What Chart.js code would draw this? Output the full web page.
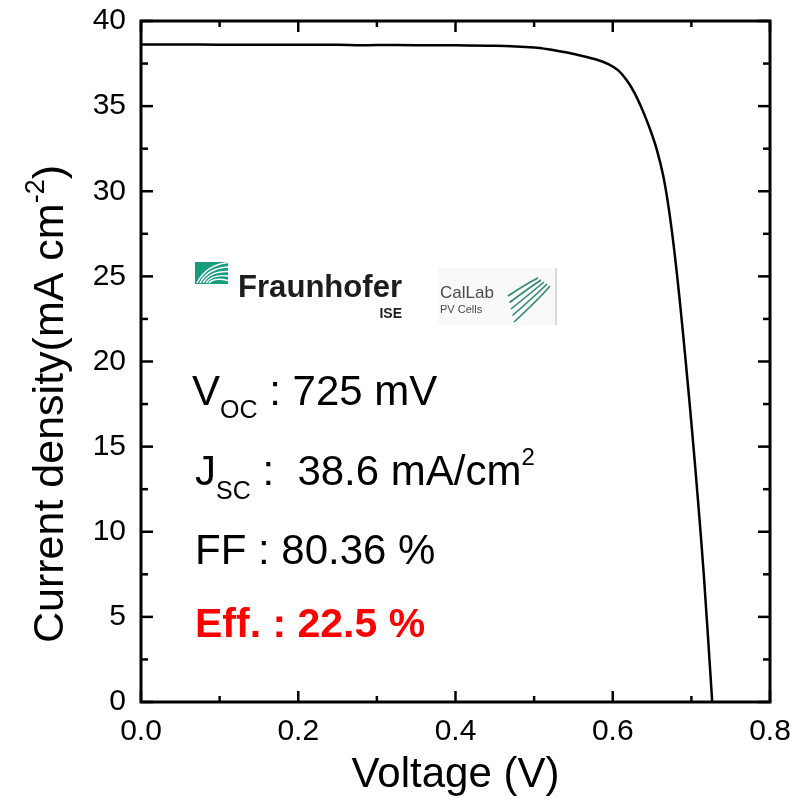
<!DOCTYPE html>
<html><head><meta charset="utf-8">
<script src="https://cdn.jsdelivr.net/npm/chart.js@4.4.0/dist/chart.umd.min.js"></script>
<style>html,body{margin:0;padding:0;background:#fff;}canvas{display:block;}</style>
</head><body>
<canvas id="c" width="803" height="801"></canvas>
<script>
// ---- data ----
const voltage = [0, 0.05, 0.10, 0.15, 0.20, 0.25, 0.28, 0.30, 0.35, 0.40, 0.45, 0.50, 0.52, 0.54, 0.56, 0.58, 0.595, 0.607, 0.618, 0.628, 0.638, 0.647, 0.656, 0.664, 0.671, 0.678, 0.685, 0.692, 0.700, 0.708, 0.716, 0.7265];
const currentDensity = [38.62, 38.62, 38.61, 38.61, 38.60, 38.60, 38.57, 38.59, 38.58, 38.57, 38.55, 38.45, 38.33, 38.16, 37.96, 37.72, 37.45, 37.10, 36.50, 35.75, 34.75, 33.70, 32.45, 30.95, 29.07, 26.62, 23.68, 20.39, 16.39, 12.07, 7.35, 0];
const xTickValues = [0, 0.2, 0.4, 0.6, 0.8];
const yTickValues = [0, 5, 10, 15, 20, 25, 30, 35, 40];
const xAxisTitle = 'Voltage (V)';
const yAxisTitle = ['Current density(mA cm', '-2', ')'];
const vocLine = ['V', 'OC', ' : 725 mV'];
const jscLine = ['J', 'SC', ' :  38.6 mA/cm', '2'];
const ffLine = 'FF : 80.36 %';
const effLine = 'Eff. : 22.5 %';
const logo1 = ['Fraunhofer', 'ISE'];
const logo2 = ['CalLab', 'PV Cells'];

const FONT = "'Liberation Sans', Arial, sans-serif";

function drawRuns(ctx, x, y, runs) {
  let cx = x;
  for (const r of runs) {
    ctx.font = (r.bold ? 'bold ' : '') + r.size + 'px ' + FONT;
    ctx.fillStyle = r.color || '#000';
    ctx.fillText(r.text, cx, y + (r.dy || 0));
    cx += ctx.measureText(r.text).width;
  }
}

const decor = {
  id: 'decor',
  afterDraw(chart) {
    const ctx = chart.ctx, a = chart.chartArea, xs = chart.scales.x, ys = chart.scales.y;
    ctx.save();
    ctx.strokeStyle = '#000';
    ctx.lineWidth = 2.5;
    const seg = (x1, y1, x2, y2) => { ctx.beginPath(); ctx.moveTo(x1, y1); ctx.lineTo(x2, y2); ctx.stroke(); };
    const xt = [];
    xTickValues.forEach((v, i) => { xt.push([v, 11]); if (i < xTickValues.length - 1) xt.push([(v + xTickValues[i + 1]) / 2, 6]); });
    xt.forEach(([v, len]) => { const p = xs.getPixelForValue(v); seg(p, a.bottom, p, a.bottom - len); seg(p, a.top, p, a.top + len); });
    const yt = [];
    yTickValues.forEach((v, i) => { yt.push([v, 12]); if (i < yTickValues.length - 1) yt.push([(v + yTickValues[i + 1]) / 2, 7]); });
    yt.forEach(([v, len]) => { const p = ys.getPixelForValue(v); seg(a.left, p, a.left + len, p); seg(a.right, p, a.right - len, p); });
    ctx.lineWidth = 3;
    ctx.strokeRect(a.left, a.top, a.right - a.left, a.bottom - a.top);

    // y axis title (rotated, with superscript)
    ctx.save();
    ctx.translate(63, 643);
    ctx.rotate(-Math.PI / 2);
    ctx.textBaseline = 'alphabetic';
    ctx.textAlign = 'left';
    drawRuns(ctx, 0, 0, [
      { text: yAxisTitle[0], size: 43 },
      { text: yAxisTitle[1], size: 27, dy: -19 },
      { text: yAxisTitle[2], size: 43 }
    ]);
    ctx.restore();

    // parameter annotations
    ctx.textBaseline = 'alphabetic';
    ctx.textAlign = 'left';
    drawRuns(ctx, 192, 405, [
      { text: vocLine[0], size: 42 },
      { text: vocLine[1], size: 25, dy: 13 },
      { text: vocLine[2], size: 42 }
    ]);
    drawRuns(ctx, 195, 485, [
      { text: jscLine[0], size: 42 },
      { text: jscLine[1], size: 25, dy: 14 },
      { text: jscLine[2], size: 42 },
      { text: jscLine[3], size: 24, dy: -20 }
    ]);
    drawRuns(ctx, 195, 564, [{ text: ffLine, size: 42 }]);
    drawRuns(ctx, 195, 637, [{ text: effLine, size: 41, bold: true, color: '#ff0000' }]);

    // Fraunhofer logo
    ctx.fillStyle = '#179c7d';
    ctx.fillRect(195, 262, 33, 22);
    ctx.strokeStyle = '#ffffff';
    ctx.lineWidth = 1.4;
    for (let i = 0; i < 5; i++) {
      ctx.beginPath();
      ctx.moveTo(197 + i * 3, 283);
      ctx.quadraticCurveTo(206 + i * 2, 265 + i * 3, 228, 262.5 + i * 4.5);
      ctx.stroke();
    }
    ctx.font = 'bold 30px ' + FONT;
    const wF = ctx.measureText(logo1[0]).width;
    const sF = 30 * 164 / wF;
    ctx.font = 'bold ' + sF.toFixed(1) + 'px ' + FONT;
    ctx.fillStyle = '#1d1d1b';
    ctx.fillText(logo1[0], 238, 297);
    ctx.font = 'bold 14px ' + FONT;
    ctx.textAlign = 'right';
    ctx.fillText(logo1[1], 402, 318);
    ctx.textAlign = 'left';

    // CalLab logo
    ctx.fillStyle = '#f8f9f8';
    ctx.fillRect(438, 268, 119, 57);
    ctx.strokeStyle = '#cfcfcf';
    ctx.lineWidth = 1.5;
    seg(556, 268, 556, 325);
    ctx.fillStyle = '#4a4a4a';
    ctx.font = '17px ' + FONT;
    ctx.fillText(logo2[0], 440, 298);
    ctx.font = '11px ' + FONT;
    ctx.fillText(logo2[1], 440, 313);
    ctx.strokeStyle = '#2f8a72';
    ctx.lineWidth = 1.6;
    for (let i = 0; i < 5; i++) {
      ctx.beginPath();
      ctx.moveTo(508 + i * 1.5, 296 + i * 6.5);
      ctx.quadraticCurveTo(526 + i * 3, 284 + i * 4, 538 + i * 3, 278 + i * 2);
      ctx.stroke();
    }
    ctx.restore();
  }
};

new Chart(document.getElementById('c'), {
  type: 'line',
  data: {
    datasets: [{
      data: voltage.map((v, i) => ({ x: v, y: currentDensity[i] })),
      borderColor: '#000',
      borderWidth: 2.5,
      pointRadius: 0,
      fill: false,
      tension: 0.35
    }]
  },
  options: {
    responsive: false,
    animation: false,
    devicePixelRatio: 1,
    layout: { padding: { left: 0, right: 33, top: 21, bottom: 0 } },
    plugins: { legend: { display: false }, tooltip: { enabled: false } },
    scales: {
      x: {
        type: 'linear', min: 0, max: 0.8,
        afterFit(s) { s.height = 99; s.paddingLeft = 0; s.paddingRight = 0; },
        afterBuildTicks(s) { s.ticks = xTickValues.map(v => ({ value: v })); },
        grid: { display: false, drawTicks: false },
        border: { display: false },
        ticks: { font: { family: FONT, size: 30 }, color: '#000', padding: 12, callback: v => Number(v).toFixed(1), maxRotation: 0 },
        title: { display: true, text: xAxisTitle, font: { family: FONT, size: 42 }, color: '#000', padding: { top: 0, bottom: 0 } }
      },
      y: {
        type: 'linear', min: 0, max: 40,
        afterFit(s) { s.width = 141; s.paddingTop = 0; s.paddingBottom = 0; },
        afterBuildTicks(s) { s.ticks = yTickValues.map(v => ({ value: v })); },
        grid: { display: false, drawTicks: false },
        border: { display: false },
        ticks: { font: { family: FONT, size: 30 }, color: '#000', padding: 15, callback: v => String(v) }
      }
    }
  },
  plugins: [decor]
});
</script>
</body></html>
